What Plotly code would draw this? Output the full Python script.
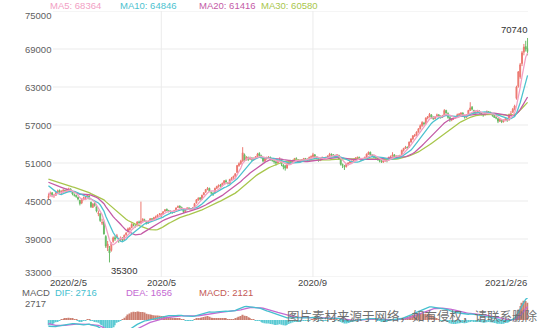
import math
import pandas as pd
import plotly.graph_objects as go

# ---------------------------------------------------------------------------
# Trading calendar (exchange holidays removed from weekdays)
# ---------------------------------------------------------------------------
holidays = ["2020-04-06", "2020-05-01", "2020-05-04", "2020-05-05",
            "2020-06-25", "2020-06-26", "2020-10-01", "2020-10-02",
            "2020-10-05", "2020-10-06", "2020-10-07", "2020-10-08",
            "2021-01-01", "2021-02-11", "2021-02-12", "2021-02-15",
            "2021-02-16", "2021-02-17"]
sessions = pd.bdate_range("2020-02-05", "2021-02-26")
sessions = sessions[~sessions.isin(pd.to_datetime(holidays))]
dates = [d.strftime("%Y-%m-%d") for d in sessions]

# closes of the sessions before 2020-02-05, used to seed the averages
prior_closes = [49200, 49300, 49500, 49400, 49600, 49500, 49300, 49400, 49300, 49500,
                48900, 48700, 48600, 48400, 48500, 48400, 48300, 48400, 48300, 48500,
                48800, 48700, 48600, 48400, 48200, 47900, 47400, 45100, 45300]

# ---------------------------------------------------------------------------
# Daily OHLC, one row per month (2020-02 ... 2021-02)
# ---------------------------------------------------------------------------
opens = [
    45500, 45900, 46300, 45800, 45900, 46300, 46700, 46400, 46500, 46700, 46500, 46800, 46900, 46400, 46000, 45900, 45600, 45100,
    44700, 45300, 45400, 45700, 45800, 44800, 44000, 44600, 44100, 43000, 43000, 41500, 41700, 39400, 37600, 37500, 37200, 38600, 39200, 39300, 39000, 38800,
    39000, 38900, 39700, 40200, 40500, 40800, 41300, 41100, 41100, 41700, 41500, 41900, 42000, 41700, 41500, 41900, 42200, 42100, 42400, 42500, 42900,
    42600, 43000, 43400, 43700, 43500, 43400, 43200, 43200, 43600, 44000, 44200, 44000, 43600, 43300, 43700, 43900, 43700, 43800,
    44000, 44700, 45200, 45500, 45300, 46000, 46400, 46800, 47000, 46300, 46200, 46300, 47000, 47300, 47500, 47400, 47800, 48200, 47900, 47800,
    48400, 48600, 48900, 49500, 50600, 50900, 51300, 52300, 51500, 51900, 51600, 51800, 51500, 51700, 52000, 52500, 52200, 51800, 51300, 51700, 51800, 51900, 51500,
    51400, 51200, 51000, 51300, 51500, 50700, 50500, 50200, 50900, 51300, 51100, 51400, 51700, 51500, 51200, 51400, 51500, 51700, 51600, 51500, 51900,
    52000, 52300, 52000, 51600, 51400, 51600, 51800, 51700, 51900, 52100, 52400, 52300, 52200, 52000, 52200, 51500, 50800, 50500, 50400, 50800, 51000, 51200,
    51400, 51500, 51800, 51900, 51700, 51500, 51600, 51900, 52400, 52700, 52300, 52100, 51900, 51800, 51500, 51300,
    51200, 51300, 51500, 51500, 51900, 52100, 52300, 51900, 52100, 51900, 52300, 53000, 53300, 53500, 53500, 54300, 54800, 55300, 55400, 55900, 56400,
    56900, 57300, 57200, 58100, 58300, 58600, 58200, 58000, 58300, 58600, 58400, 58200, 58500, 59300, 58800, 58200, 57800, 58000, 58100, 58400, 58600, 58700, 58900,
    58500, 58200, 58600, 59300, 59800, 59300, 58900, 59000, 59200, 58900, 58600, 58600, 58900, 59100, 59000, 58700, 58500, 58200, 58000, 57600,
    57800, 57500, 57700, 58000, 57800, 58700, 59000, 59500, 61200, 63100, 64600, 66700, 68500, 69400, 69100,
]
highs = [
    46200, 46500, 46400, 46100, 46500, 46800, 46800, 46700, 46900, 46800, 47000, 47100, 47000, 46500, 46200, 46000, 45700, 45200,
    45300, 45700, 45800, 46100, 45900, 44900, 44700, 44800, 44200, 43500, 43100, 42200, 41900, 39600, 38700, 37900, 38500, 39400, 39500, 39800, 39200, 39400,
    39300, 39700, 40100, 40800, 40900, 41500, 41400, 41300, 41800, 41900, 44900, 42300, 42200, 41900, 41900, 42300, 42300, 42500, 42700, 42900, 43100,
    43100, 43400, 43700, 43800, 43600, 43500, 43400, 43600, 44000, 44300, 44300, 44100, 43700, 43700, 44000, 44000, 43900, 44000,
    44700, 45300, 45600, 45600, 46000, 46400, 46900, 47200, 47100, 46500, 46400, 47100, 47400, 47600, 47700, 47900, 48300, 48400, 48000, 48500,
    48800, 49000, 49400, 50700, 51100, 51500, 53500, 52500, 52100, 52000, 52000, 51900, 51900, 52100, 52600, 52700, 52300, 51900, 51800, 52000, 52100, 52000, 51700,
    51500, 51300, 51500, 51900, 51600, 50800, 50700, 51000, 51400, 51400, 51500, 51800, 51900, 51600, 51500, 51600, 51800, 51800, 51700, 52000, 52200,
    52600, 52400, 52100, 51700, 51800, 52000, 51900, 52000, 52200, 52600, 52500, 52400, 52300, 52400, 52300, 51600, 50900, 50700, 50900, 51100, 51300, 51400,
    51700, 51900, 52000, 52000, 51800, 51700, 52000, 52500, 52800, 52800, 52400, 52200, 52000, 51900, 51600, 51500,
    51500, 51700, 51700, 52000, 52200, 52700, 52400, 52200, 52200, 52300, 53100, 53400, 53700, 53600, 54400, 54900, 55400, 55600, 56000, 56500, 57100,
    57600, 57500, 58200, 58400, 58900, 58700, 58400, 58400, 58800, 58700, 58500, 58600, 59500, 59400, 59000, 58300, 58100, 58200, 58400, 58800, 58900, 59000, 59000,
    58600, 58700, 59400, 60600, 60000, 59400, 59200, 59400, 59300, 59000, 58800, 59000, 59300, 59200, 59100, 58800, 58600, 58400, 58100, 58000,
    57900, 57900, 58200, 58100, 58800, 59200, 59700, 60200, 63200, 65500, 66800, 68700, 69800, 70300, 70740,
]
lows = [
    45300, 45700, 45800, 45500, 45800, 46200, 46200, 46100, 46300, 46300, 46400, 46600, 46400, 45900, 45700, 45500, 45100, 44300,
    44500, 45100, 45300, 45600, 45200, 43900, 43900, 44100, 43200, 42600, 41700, 41200, 39700, 37600, 37100, 35300, 37000, 38400, 38700, 39100, 38400, 38600,
    38600, 38700, 39500, 40000, 40300, 40700, 41000, 40800, 41000, 41400, 41300, 41700, 41700, 41300, 41400, 41800, 41900, 42000, 42200, 42400, 42700,
    42500, 42800, 43300, 43400, 43200, 43100, 43000, 43100, 43500, 43900, 43900, 43600, 43100, 43200, 43600, 43600, 43500, 43600,
    43900, 44600, 45000, 45100, 45200, 45900, 46300, 46700, 46400, 46000, 45800, 46200, 46900, 47100, 47200, 47300, 47700, 47900, 47600, 47700,
    48300, 48500, 48800, 49400, 50400, 50700, 51200, 51200, 51400, 51300, 51500, 51300, 51400, 51600, 51900, 52000, 51700, 51100, 51200, 51500, 51700, 51400, 51200,
    50900, 50600, 50900, 51200, 50500, 50000, 49800, 50100, 50800, 50900, 51000, 51300, 51500, 51000, 51100, 51300, 51400, 51500, 51300, 51400, 51800,
    51900, 51900, 51600, 51200, 51300, 51500, 51500, 51600, 51800, 52000, 52100, 52000, 51800, 51900, 51500, 50600, 50200, 49900, 50300, 50600, 50900, 51000,
    51200, 51400, 51600, 51600, 51300, 51400, 51500, 51800, 52300, 52200, 52000, 51800, 51600, 51400, 51100, 51000,
    51000, 51200, 51100, 51400, 51800, 52000, 51800, 51800, 51700, 51800, 52200, 52800, 53200, 53100, 53400, 54200, 54600, 55100, 55300, 55800, 56300,
    56700, 56900, 57100, 57900, 58200, 58000, 57800, 57900, 58200, 58200, 58000, 58100, 58400, 58800, 58000, 57500, 57600, 57800, 58000, 58300, 58400, 58500, 58300,
    58000, 58100, 58500, 59200, 59300, 58700, 58700, 58900, 58800, 58500, 58300, 58500, 58800, 58800, 58600, 58300, 58100, 57900, 57300, 57500,
    57300, 57400, 57600, 57500, 57700, 58600, 58900, 59300, 61000, 62900, 64300, 66300, 68000, 68600, 68000,
]
closes = [
    45800, 46200, 46000, 45900, 46300, 46600, 46400, 46500, 46700, 46500, 46800, 46900, 46600, 46100, 45900, 45700, 45300, 44600,
    45200, 45500, 45600, 45900, 45400, 44100, 44500, 44300, 43400, 43100, 41900, 41600, 39800, 37900, 38200, 36800, 38300, 39200, 39000, 39500, 38700, 39200,
    38900, 39600, 39900, 40600, 40700, 41300, 41200, 41000, 41700, 41600, 41800, 42100, 41900, 41500, 41800, 42200, 42100, 42400, 42500, 42800, 42900,
    43000, 43300, 43600, 43500, 43400, 43300, 43200, 43500, 43900, 44100, 44000, 43700, 43300, 43600, 43900, 43700, 43800, 43900,
    44600, 45200, 45400, 45300, 45900, 46300, 46800, 47000, 46500, 46300, 46100, 47000, 47300, 47500, 47400, 47800, 48200, 48000, 47800, 48400,
    48600, 48900, 49300, 50600, 50900, 51300, 52600, 51400, 51900, 51600, 51800, 51500, 51700, 52000, 52400, 52200, 51900, 51300, 51700, 51800, 51900, 51500, 51400,
    51200, 51000, 51300, 51600, 50800, 50400, 50200, 50900, 51300, 51100, 51400, 51700, 51600, 51200, 51400, 51500, 51700, 51600, 51500, 51900, 52000,
    52300, 52000, 51700, 51400, 51600, 51900, 51700, 51900, 52100, 52400, 52300, 52200, 52000, 52300, 51600, 50800, 50600, 50400, 50800, 51000, 51200, 51300,
    51500, 51800, 51900, 51700, 51500, 51600, 51900, 52400, 52700, 52300, 52100, 51900, 51800, 51500, 51300, 51200,
    51300, 51500, 51400, 51900, 52000, 52300, 51900, 52100, 51900, 52200, 53000, 53300, 53500, 53400, 54300, 54800, 55300, 55400, 55900, 56400, 56900,
    57400, 57200, 58100, 58300, 58700, 58200, 58000, 58300, 58600, 58400, 58200, 58500, 59300, 58900, 58200, 57800, 58000, 58100, 58300, 58600, 58700, 58900, 58500,
    58200, 58600, 59300, 59700, 59500, 58900, 59000, 59200, 58900, 58700, 58600, 58900, 59100, 59000, 58780, 58500, 58200, 58100, 57600, 57900,
    57500, 57700, 58000, 57700, 58660, 58740, 59500, 60000, 63000, 65400, 66520, 68400, 69300, 69000, 68600,
]

price_ticks = [75000, 69000, 63000, 57000, 51000, 45000, 39000, 33000]
month_marks = {"2020/5": "2020-05-06", "2020/9": "2020-09-01"}

# ---------------------------------------------------------------------------
# Indicators
# ---------------------------------------------------------------------------
hist_close = pd.Series(prior_closes + closes, dtype=float)
n_prior = len(prior_closes)


def moving_average(n):
    return hist_close.rolling(n).mean().iloc[n_prior:].round(2).tolist()


ma5, ma10, ma20, ma30 = (moving_average(n) for n in (5, 10, 20, 30))

ema12 = hist_close.ewm(span=12, adjust=False).mean()
ema26 = hist_close.ewm(span=26, adjust=False).mean()
dif_all = ema12 - ema26
dea_all = dif_all.ewm(span=9, adjust=False).mean()
dif = dif_all.iloc[n_prior:].tolist()
dea = dea_all.iloc[n_prior:].tolist()
macd = [2 * (a - b) for a, b in zip(dif, dea)]

# ---------------------------------------------------------------------------
# Styling / geometry
# ---------------------------------------------------------------------------
W, H = 550, 328
UP, DOWN = "#ec7870", "#68bb66"
C_MA5, C_MA10, C_MA20, C_MA30 = "#f2a0c4", "#4cc2cf", "#c45aa6", "#a8c64c"
C_DIF, C_DEA, C_MACD = "#45c0cf", "#c46ad2", "#c45a55"
AXIS_TXT = "#606060"
FONT = "Liberation Sans, Arial, sans-serif"

X_LEFT, X_RIGHT = 47.5, 528.5      # plot area in pixels
Y_TOP, Y_BOTTOM = 11, 277          # main price panel
MACD_TOP = 298                     # MACD panel continues past the bottom edge


def fx(px):
    return px / W


def fy(px):
    return 1 - px / H


idx = list(range(len(dates)))
pos = {d: i for i, d in enumerate(dates)}

fig = go.Figure()

fig.add_trace(go.Candlestick(
    x=idx, open=opens, high=highs, low=lows, close=closes,
    increasing=dict(line=dict(color=UP, width=1), fillcolor=UP),
    decreasing=dict(line=dict(color=DOWN, width=1), fillcolor=DOWN),
    whiskerwidth=0, hoverinfo="skip", showlegend=False,
    xaxis="x", yaxis="y",
))

for series, color in ((ma30, C_MA30), (ma20, C_MA20), (ma10, C_MA10), (ma5, C_MA5)):
    fig.add_trace(go.Scatter(x=idx, y=series, mode="lines",
                             line=dict(color=color, width=1.3),
                             hoverinfo="skip", showlegend=False,
                             xaxis="x", yaxis="y"))

fig.add_trace(go.Bar(
    x=idx, y=macd,
    marker=dict(color=["#cc7f70" if v >= 0 else "#5ccad3" for v in macd], line=dict(width=0)),
    hoverinfo="skip", showlegend=False, xaxis="x2", yaxis="y2",
))
fig.add_trace(go.Scatter(x=idx, y=dea, mode="lines", line=dict(color=C_DEA, width=1.3),
                         hoverinfo="skip", showlegend=False, xaxis="x2", yaxis="y2"))
fig.add_trace(go.Scatter(x=idx, y=dif, mode="lines", line=dict(color=C_DIF, width=1.3),
                         hoverinfo="skip", showlegend=False, xaxis="x2", yaxis="y2"))

macd_top = max(max(dif), max(dea), max(macd))
zero_px = 320
macd_bottom = -macd_top * (H - zero_px) / (zero_px - MACD_TOP)

xr = [-0.5, len(dates) - 0.5]
fig.update_layout(
    width=W, height=H, margin=dict(l=0, r=0, t=0, b=0),
    paper_bgcolor="white", plot_bgcolor="rgba(0,0,0,0)",
    font=dict(family=FONT, size=9.5, color=AXIS_TXT),
    bargap=0.35, showlegend=False,
    xaxis=dict(domain=[fx(X_LEFT), fx(X_RIGHT)], range=xr, showgrid=False, zeroline=False,
               showticklabels=False, showline=False, rangeslider=dict(visible=False)),
    yaxis=dict(domain=[fy(Y_BOTTOM), fy(Y_TOP)], range=[33000, 75000], showgrid=False,
               zeroline=False, showticklabels=False, showline=False),
    xaxis2=dict(domain=[fx(X_LEFT), fx(X_RIGHT)], range=xr, anchor="y2", matches="x",
                showgrid=False, zeroline=False, showticklabels=False, showline=False),
    yaxis2=dict(domain=[0, fy(MACD_TOP)], range=[macd_bottom, macd_top], anchor="x2",
                showgrid=False, zeroline=False, showticklabels=False, showline=False),
)

shapes = []
for v in price_ticks:
    shapes.append(dict(type="line", xref="paper", yref="y", x0=fx(53), x1=fx(528), y0=v, y1=v,
                       line=dict(color="#ebebeb", width=1), layer="below"))
for lab, d in month_marks.items():
    shapes.append(dict(type="line", xref="x", yref="paper", x0=pos[d], x1=pos[d],
                       y0=fy(Y_BOTTOM), y1=fy(Y_TOP), line=dict(color="#ebebeb", width=1), layer="below"))
fig.update_layout(shapes=shapes)

ann = []
# price axis labels
for v in price_ticks:
    shift = -4 if v == price_ticks[0] else (5 if v == price_ticks[-1] else 0)
    ann.append(dict(x=fx(23), xref="paper", y=v, yref="y", yshift=shift, text=f"{v}",
                    xanchor="left", yanchor="middle", showarrow=False,
                    font=dict(size=9.5, color=AXIS_TXT)))
# date axis labels
date_y = fy(282)
ann.append(dict(x=-0.5, xref="x", y=date_y, yref="paper", text="2020/2/5", xanchor="left",
                yanchor="middle", showarrow=False, font=dict(size=9.5, color="#444")))
for lab, d in month_marks.items():
    ann.append(dict(x=pos[d], xref="x", y=date_y, yref="paper", text=lab, xanchor="center",
                    yanchor="middle", showarrow=False, font=dict(size=9.5, color="#444")))
ann.append(dict(x=len(dates) - 0.5, xref="x", y=date_y, yref="paper", text="2021/2/26",
                xanchor="right", yanchor="middle", showarrow=False, font=dict(size=9.5, color="#444")))

# moving-average readout
for x_px, name, series, color in ((48, "MA5", ma5, C_MA5), (118, "MA10", ma10, C_MA10),
                                  (197, "MA20", ma20, C_MA20), (259, "MA30", ma30, C_MA30)):
    ann.append(dict(x=fx(x_px), xref="paper", y=fy(5.5), yref="paper",
                    text=f"{name}: {series[-1]:.0f}", xanchor="left", yanchor="middle",
                    showarrow=False, font=dict(size=9.5, color=color)))

# extreme-price markers
i_hi = max(idx, key=lambda i: highs[i])
i_lo = min(idx, key=lambda i: lows[i])
ann.append(dict(x=i_hi, xref="x", y=highs[i_hi], yref="y", text=f"{highs[i_hi]}",
                xanchor="right", yanchor="bottom", yshift=1, xshift=1, showarrow=False,
                font=dict(size=9.5, color="#333")))
ann.append(dict(x=i_lo, xref="x", y=lows[i_lo], yref="y", text=f"{lows[i_lo]}",
                xanchor="left", yanchor="top", yshift=-1, xshift=0, showarrow=False,
                font=dict(size=9.5, color="#333")))

# MACD readout
row_y = fy(292)
ann.append(dict(x=fx(20), xref="paper", y=row_y, yref="paper", text="MACD", xanchor="left",
                yanchor="middle", showarrow=False, font=dict(size=9.5, color=AXIS_TXT)))
ann.append(dict(x=fx(48), xref="paper", y=fy(303.5), yref="paper", text=f"{math.ceil(macd_top)}",
                xanchor="right", yanchor="middle", showarrow=False, font=dict(size=9.5, color=AXIS_TXT)))
for x_px, name, series, color in ((53, "DIF", dif, C_DIF), (124, "DEA", dea, C_DEA),
                                  (197, "MACD", macd, C_MACD)):
    ann.append(dict(x=fx(x_px), xref="paper", y=row_y, yref="paper",
                    text=f"{name}: {series[-1]:.0f}", xanchor="left", yanchor="middle",
                    showarrow=False, font=dict(size=9.5, color=color)))

# source note
ann.append(dict(x=fx(285), xref="paper", y=fy(315), yref="paper",
                text="图片素材来源于网络，如有侵权，请联系删除", xanchor="left", yanchor="middle",
                showarrow=False, font=dict(family="Noto Sans CJK SC", size=12.5, color="#6f6f6f")))

fig.update_layout(annotations=ann)
fig.write_html("out.html")
